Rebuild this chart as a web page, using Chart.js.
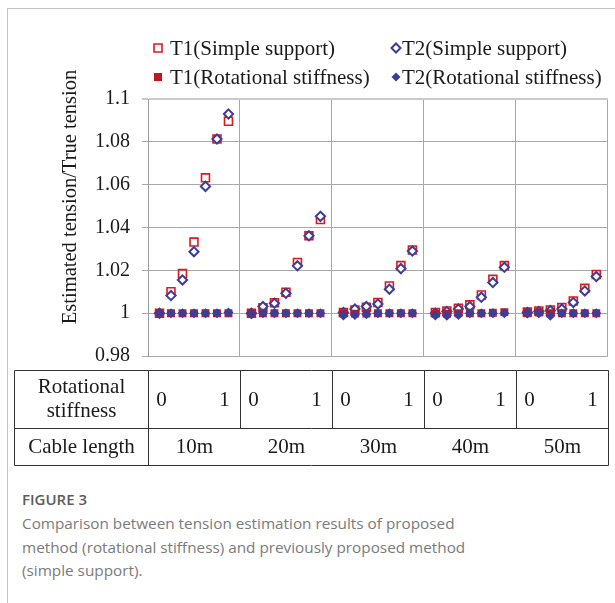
<!DOCTYPE html>
<html>
<head>
<meta charset="utf-8">
<script src="https://cdn.jsdelivr.net/npm/chart.js@4/dist/chart.umd.min.js"></script>
<style>
  html, body { margin: 0; padding: 0; background: #fff; }
  body { width: 615px; height: 603px; position: relative; overflow: hidden; }
  .card { position: absolute; left: 7px; top: 8px; right: -2px; bottom: -2px;
          border-left: 1px solid #c4c4c4; border-top: 1px solid #c4c4c4; }
  #chart { position: absolute; left: 0; top: 0; }
  .caption { position: absolute; left: 22px; top: 488px; width: 590px;
             font-family: "Open Sans", sans-serif; color: #7a7a7a; }
  .caption h4 { margin: 0; font-size: 15px; font-weight: 600; color: #5c5c5c; line-height: 22px; }
  .caption p { margin: 2px 0 0 0; font-size: 15.3px; line-height: 23.5px; }
  .preload { position: absolute; left: -999px; top: 0; font-family: "Liberation Serif"; font-size: 19px; }
</style>
</head>
<body>
<div class="card"></div>
<span class="preload">Estimated tension 0.98</span>
<canvas id="chart" width="615" height="470"></canvas>
<div class="caption">
  <h4>FIGURE 3</h4>
  <p>Comparison between tension estimation results of proposed<br>method (rotational stiffness) and previously proposed method<br>(simple support).</p>
</div>
<script>
// cable lengths (one block of the table each) and the stiffness steps inside a block
const cableLengths = ["10m", "20m", "30m", "40m", "50m"];
const stiffnessSteps = [0, 1/6, 2/6, 3/6, 4/6, 5/6, 1];
const yTicks = [0.98, 1, 1.02, 1.04, 1.06, 1.08, 1.1];

// estimated / true tension, 7 steps per cable length
const t1Simple = [
  1.0000, 1.0100, 1.0185, 1.0332, 1.0632, 1.0813, 1.0896,
  1.0000, 1.0025, 1.0049, 1.0098, 1.0237, 1.0361, 1.0437,
  1.0003, 1.0015, 1.0028, 1.0050, 1.0127, 1.0222, 1.0295,
  1.0003, 1.0010, 1.0023, 1.0039, 1.0085, 1.0158, 1.0222,
  1.0005, 1.0010, 1.0015, 1.0026, 1.0057, 1.0116, 1.0181
];
const t2Simple = [
  1.0000, 1.0082, 1.0155, 1.0287, 1.0592, 1.0813, 1.0930,
  1.0000, 1.0031, 1.0046, 1.0093, 1.0221, 1.0361, 1.0452,
  1.0003, 1.0019, 1.0031, 1.0043, 1.0112, 1.0208, 1.0290,
  1.0000, 1.0008, 1.0019, 1.0031, 1.0074, 1.0143, 1.0214,
  1.0003, 1.0008, 1.0012, 1.0019, 1.0050, 1.0104, 1.0171
];
const t1Rot = [
  1.0000, 1.0000, 1.0000, 1.0000, 1.0000, 1.0000, 1.0000,
  0.9998, 1.0000, 1.0000, 1.0000, 1.0000, 1.0000, 1.0000,
  1.0000, 0.9998, 0.9998, 1.0000, 1.0000, 1.0000, 1.0000,
  0.9998, 0.9997, 1.0000, 1.0000, 1.0000, 1.0002, 1.0005,
  1.0000, 1.0003, 1.0000, 1.0000, 1.0000, 1.0000, 1.0000
];
const t2Rot = [
  1.0000, 1.0000, 1.0000, 1.0000, 1.0000, 1.0000, 1.0003,
  0.9995, 1.0000, 1.0000, 1.0000, 1.0000, 1.0000, 1.0000,
  0.9989, 0.9992, 0.9995, 1.0000, 1.0000, 1.0000, 1.0000,
  0.9989, 0.9988, 0.9992, 1.0000, 1.0000, 1.0000, 1.0000,
  1.0000, 1.0000, 0.9988, 1.0000, 1.0000, 1.0000, 1.0000
];

const BLOCK = stiffnessSteps.length + 1;   // x units per cable length block
const serif = "'Liberation Serif', 'DejaVu Serif', serif";
const RED = "#e3161c", DARKRED = "#c4161c", BLUE = "#3c3d97";

function points(values) {
  return values.map((v, i) => ({
    x: Math.floor(i / stiffnessSteps.length) * BLOCK + (i % stiffnessSteps.length) + 1,
    y: v
  }));
}

function drawMarker(ctx, ds, cx, cy) {
  ctx.save();
  ctx.beginPath();
  if (ds.pointStyle === "rect") {
    ctx.rect(cx - 4, cy - 4, 8, 8);
  } else {
    ctx.moveTo(cx - 4.5, cy); ctx.lineTo(cx, cy - 4.5);
    ctx.lineTo(cx + 4.5, cy); ctx.lineTo(cx, cy + 4.5); ctx.closePath();
  }
  ctx.fillStyle = ds.backgroundColor;
  ctx.fill();
  if (ds.borderWidth) {
    ctx.lineWidth = ds.borderWidth;
    ctx.strokeStyle = ds.borderColor;
    ctx.stroke();
  }
  ctx.restore();
}

// legend, axis title and the parameter table under the plot
const overlay = {
  id: "overlay",
  afterDraw(chart) {
    const ctx = chart.ctx;
    const xs = chart.scales.x;
    ctx.save();
    ctx.fillStyle = "#1a1a1a";
    ctx.font = "21px " + serif;

    // legend in two columns
    const slots = [[158, 48], [396, 48], [158, 77], [396, 77]];
    chart.data.datasets.forEach((ds, i) => {
      const [mx, my] = slots[i];
      drawMarker(ctx, ds, mx, my);
      ctx.textAlign = "left";
      ctx.textBaseline = "alphabetic";
      ctx.fillText(ds.label, mx + 12 - (i % 2) * 6, my + 7);
    });

    // y axis title
    ctx.save();
    ctx.font = "20.5px " + serif;
    ctx.translate(71, 197);
    ctx.rotate(-Math.PI / 2);
    ctx.textAlign = "center";
    ctx.textBaseline = "middle";
    ctx.fillText("Estimated tension/True tension", 0, 0);
    ctx.restore();

    // table
    const top = 370.5, mid = 428.5, bottom = 465.5, left = 14.5;
    const cols = cableLengths.map((_, g) => Math.round(xs.getPixelForValue(g * BLOCK)) + 0.5);
    const right = Math.round(xs.getPixelForValue(cableLengths.length * BLOCK)) + 0.5;
    ctx.strokeStyle = "#333";
    ctx.lineWidth = 1;
    ctx.beginPath();
    ctx.rect(left, top, right - left, bottom - top);
    ctx.moveTo(left, mid); ctx.lineTo(right, mid);
    cols.forEach((c, g) => {
      ctx.moveTo(c, top);
      ctx.lineTo(c, g === 0 ? bottom : mid);
    });
    ctx.stroke();

    ctx.font = "21px " + serif;
    ctx.textAlign = "center";
    ctx.textBaseline = "middle";
    const firstMid = (left + cols[0]) / 2;
    ctx.fillText("Rotational", firstMid, 387);
    ctx.fillText("stiffness", firstMid, 411);
    ctx.fillText("Cable length", firstMid, 447);
    cableLengths.forEach((lab, g) => {
      const a = cols[g];
      const b = g + 1 < cols.length ? cols[g + 1] : right;
      ctx.fillText(String(stiffnessSteps[0]), a + 13, 400);
      ctx.fillText(String(stiffnessSteps[stiffnessSteps.length - 1]), b - 16, 400);
      ctx.fillText(lab, (a + b) / 2, 447);
    });
    ctx.restore();
  }
};

function build() {
  new Chart(document.getElementById("chart"), {
    type: "scatter",
    data: {
      datasets: [
        {
          label: "T1(Simple support)",
          data: points(t1Simple),
          pointStyle: "rect", pointRadius: 5.6,
          backgroundColor: "rgba(255,255,255,0)", borderColor: RED, borderWidth: 1.6,
          order: 4
        },
        {
          label: "T2(Simple support)",
          data: points(t2Simple),
          pointStyle: "rectRot", pointRadius: 4.6,
          backgroundColor: "#ffffff", borderColor: BLUE, borderWidth: 2,
          order: 3
        },
        {
          label: "T1(Rotational stiffness)",
          data: points(t1Rot),
          pointStyle: "rect", pointRadius: 5.6,
          backgroundColor: DARKRED, borderColor: DARKRED, borderWidth: 0,
          order: 2
        },
        {
          label: "T2(Rotational stiffness)",
          data: points(t2Rot),
          pointStyle: "rectRot", pointRadius: 5,
          backgroundColor: BLUE, borderColor: BLUE, borderWidth: 0,
          order: 1
        }
      ]
    },
    options: {
      responsive: false,
      animation: false,
      layout: { padding: { top: 99, right: 4, bottom: 114, left: 0 } },
      plugins: {
        legend: { display: false },
        tooltip: { enabled: false }
      },
      scales: {
        x: {
          type: "linear",
          min: 0,
          max: cableLengths.length * BLOCK,
          ticks: { display: false, stepSize: BLOCK },
          grid: { color: "#a8a8a8", drawTicks: false },
          border: { display: false },
          afterFit(scale) { scale.height = 0; }
        },
        y: {
          min: yTicks[0],
          max: yTicks[yTicks.length - 1],
          afterBuildTicks(scale) { scale.ticks = yTicks.map(v => ({ value: v })); },
          ticks: {
            padding: 12,
            color: "#1a1a1a",
            font: { family: serif, size: 20 },
            callback: v => String(+v.toFixed(2))
          },
          grid: {
            tickLength: 6,
            color: c => (c.tick && c.tick.value >= 1.099 ? "#c9c9c9" : "#a8a8a8"),
            lineWidth: c => (c.tick && c.tick.value >= 1.099 ? 2 : 1)
          },
          border: { color: "#999" },
          afterFit(scale) { scale.width = 148; }
        }
      }
    },
    plugins: [overlay]
  });
}

document.fonts.load("19px 'Liberation Serif'").then(build, build);
</script>
</body>
</html>
